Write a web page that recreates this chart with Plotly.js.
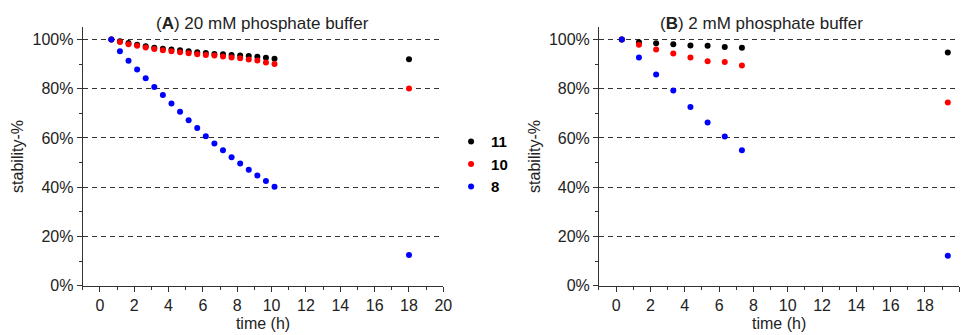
<!DOCTYPE html>
<html>
<head>
<meta charset="utf-8">
<script src="https://cdn.plot.ly/plotly-3.0.1.min.js"></script>
<style>html,body{margin:0;padding:0;background:#fff;}#chart{width:968px;height:335px;}</style>
</head>
<body>
<div id="chart"></div>
<script>
// Panel A: 20 mM phosphate buffer
const timesA = [0.67, 1.17, 1.67, 2.17, 2.67, 3.17, 3.67, 4.17, 4.67, 5.17, 5.67, 6.17, 6.67, 7.17, 7.67, 8.17, 8.67, 9.17, 9.67, 10.17, 18];
const a11 = [100, 99.3, 98.6, 97.8, 97.2, 96.6, 96.2, 95.9, 95.6, 95.2, 94.8, 94.5, 94.1, 94.0, 93.7, 93.5, 93.3, 93.0, 92.6, 92.2, 92.0];
const a10 = [100, 99.0, 98.1, 97.4, 96.7, 96.1, 95.6, 95.2, 94.8, 94.4, 94.0, 93.7, 93.5, 93.1, 92.7, 92.4, 91.9, 91.5, 90.6, 90.0, 80.1];
const a8  = [100, 95.2, 91.4, 87.8, 84.3, 80.7, 77.4, 74.0, 70.6, 67.2, 64.0, 60.7, 57.8, 55.0, 52.2, 49.6, 47.1, 44.8, 42.5, 40.2, 12.5];

// Panel B: 2 mM phosphate buffer
const timesB = [0.33, 1.33, 2.33, 3.33, 4.33, 5.33, 6.33, 7.33, 19.33];
const b11 = [100, 98.9, 98.5, 98.1, 97.5, 97.4, 96.9, 96.6, 94.7];
const b10 = [100, 97.9, 95.9, 94.3, 92.7, 91.2, 90.8, 89.4, 74.4];
const b8  = [100, 92.7, 85.8, 79.3, 72.6, 66.3, 60.6, 55.0, 12.2];

const seriesNames = ['11', '10', '8'];
const seriesColors = ['#000000', '#ff0000', '#0000ff'];
const panelTitles = ['(<b>A</b>) 20 mM phosphate buffer', '(<b>B</b>) 2 mM phosphate buffer'];

const FONT = 'Liberation Sans, Arial, sans-serif';
const dataA = [a11, a10, a8];
const dataB = [b11, b10, b8];
const traces = [];
seriesNames.forEach((n, i) => {
  traces.push({x: timesA, y: dataA[i], type: 'scatter', mode: 'markers', name: '<b>' + n + '</b>',
    marker: {color: seriesColors[i], size: 6}, xaxis: 'x', yaxis: 'y', legendgroup: n, showlegend: true, cliponaxis: false});
});
seriesNames.forEach((n, i) => {
  traces.push({x: timesB, y: dataB[i], type: 'scatter', mode: 'markers', name: '<b>' + n + '</b>',
    marker: {color: seriesColors[i], size: 6}, xaxis: 'x2', yaxis: 'y2', legendgroup: n, showlegend: false, cliponaxis: false});
});

function xax(domain, anchor) {
  return {domain: domain, anchor: anchor, range: [-1, 20], tick0: 0, dtick: 2, showgrid: false, zeroline: false,
    showline: true, linecolor: '#333', linewidth: 1, ticks: 'outside', ticklen: 5, tickcolor: '#333',
    minor: {dtick: 1, ticks: 'outside', ticklen: 3, tickcolor: '#333'},
    tickfont: {family: FONT, size: 16, color: '#222'},
    title: {text: 'time (h)', font: {family: FONT, size: 16, color: '#222'}, standoff: 4}};
}
function yax(domain, anchor) {
  return {domain: domain, anchor: anchor, range: [0, 105], tick0: 0, dtick: 20, ticksuffix: '%',
    showgrid: true, gridcolor: '#333', gridwidth: 1, griddash: '5px,4px', zeroline: false,
    showline: true, linecolor: '#333', linewidth: 1, ticks: 'outside', ticklen: 5, tickcolor: '#333',
    minor: {dtick: 10, ticks: 'outside', ticklen: 3, tickcolor: '#333', showgrid: false},
    tickfont: {family: FONT, size: 16, color: '#222'},
    title: {text: 'stability-%', font: {family: FONT, size: 16, color: '#222'}, standoff: 4}};
}

const yd = [0.147, 0.919];
const layout = {
  width: 968, height: 335,
  margin: {l: 0, r: 0, t: 0, b: 0},
  paper_bgcolor: '#fff', plot_bgcolor: '#fff',
  font: {family: FONT, color: '#222'},
  xaxis: xax([0.0854, 0.458], 'y'),
  yaxis: yax(yd, 'x'),
  xaxis2: xax([0.6188, 0.991], 'y2'),
  yaxis2: yax(yd, 'x2'),
  legend: {x: 0.466, y: 0.626, xanchor: 'left', yanchor: 'top', bgcolor: 'rgba(0,0,0,0)',
    font: {family: FONT, size: 15, color: '#000'}, tracegroupgap: 0},
  annotations: [
    {text: panelTitles[0], xref: 'paper', yref: 'paper', x: 262 / 968, y: 1 - 24 / 335, xanchor: 'center', yanchor: 'middle',
     showarrow: false, font: {family: FONT, size: 17, color: '#222'}},
    {text: panelTitles[1], xref: 'paper', yref: 'paper', x: 761 / 968, y: 1 - 24 / 335, xanchor: 'center', yanchor: 'middle',
     showarrow: false, font: {family: FONT, size: 17, color: '#222'}}
  ]
};
Plotly.newPlot('chart', traces, layout, {displayModeBar: false, staticPlot: true});
</script>
</body>
</html>
